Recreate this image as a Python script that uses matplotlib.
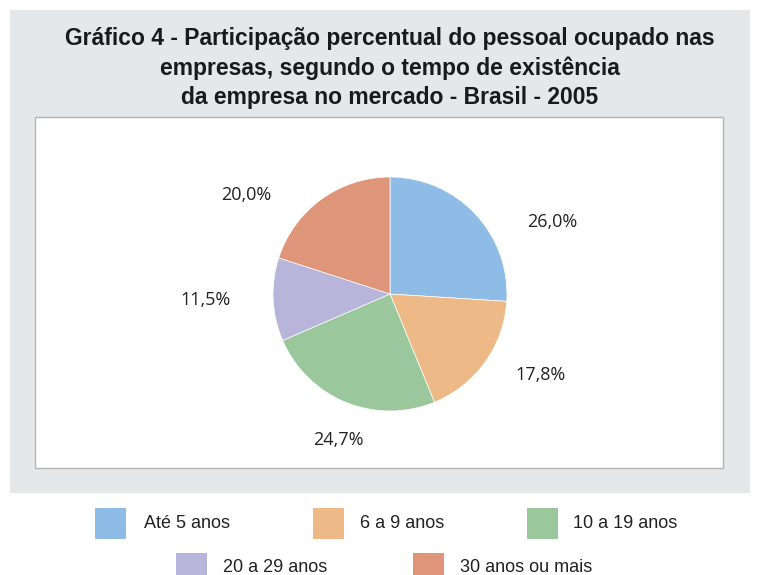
import matplotlib
matplotlib.use("Agg")
import matplotlib.pyplot as plt
from matplotlib.patches import Rectangle

categories = ["Até 5 anos", "6 a 9 anos", "10 a 19 anos", "20 a 29 anos", "30 anos ou mais"]
values = [26.0, 17.8, 24.7, 11.5, 20.0]
value_labels = ["26,0%", "17,8%", "24,7%", "11,5%", "20,0%"]
colors = ["#8EBCE6", "#EDBA87", "#9AC89C", "#B9B5DA", "#DF957A"]
title = ("Gráfico 4 - Participação percentual do pessoal ocupado nas\n"
         "empresas, segundo o tempo de existência\n"
         "da empresa no mercado - Brasil - 2005")

W, H = 759, 575
fig = plt.figure(figsize=(W / 100, H / 100), dpi=100)
fig.patch.set_facecolor("white")

def px(x, y):
    return x / W, 1 - y / H

# grey panel
gx0, gy0, gx1, gy1 = 10, 10, 750, 493
fig.patches.append(Rectangle(px(gx0, gy1), (gx1 - gx0) / W, (gy1 - gy0) / H,
                             transform=fig.transFigure, facecolor="#E6E7E9",
                             edgecolor="none", zorder=0))
# white inner box
bx0, by0, bx1, by1 = 35, 117, 723, 468
fig.patches.append(Rectangle(px(bx0, by1), (bx1 - bx0) / W, (by1 - by0) / H,
                             transform=fig.transFigure, facecolor="white",
                             edgecolor="#B4B4B4", linewidth=1.0, zorder=0.5))

title_font = ["Liberation Sans", "DejaVu Sans"]
fig.text(390 / W, 1 - 68 / H, title, ha="center", va="center", fontsize=16.5,
         fontweight="bold", family=title_font, linespacing=1.34, color="#1a1a1a")

# pie axes
cx, cy, r = 390, 294, 117
side = 300
ax = fig.add_axes([(cx - side / 2) / W, (H - cy - side / 2) / H, side / W, side / H])
ax.set_zorder(3)
ax.patch.set_visible(False)
lim = side / 2 / r
ax.pie(values, colors=colors, startangle=90, counterclock=False,
       radius=1.0, wedgeprops=dict(edgecolor="white", linewidth=0.5))
ax.set_aspect("equal")
ax.set_xlim(-lim, lim)
ax.set_ylim(-lim, lim)
ax.axis("off")

label_px = [(552, 222), (541, 375), (338, 440), (206, 300), (246, 195)]
for lab, (lx, ly) in zip(value_labels, label_px):
    ax.text((lx - cx) / r, (cy - ly) / r, lab, ha="center", va="center",
            fontsize=13, family=["Open Sans", "DejaVu Sans"], color="#222222",
            clip_on=False)

# legend
leg_font = ["Liberation Sans", "DejaVu Sans"]
sq_x = [95, 313, 527, 176, 413]
sq_y = [508, 508, 508, 553, 553]
txt_x = [144, 360, 573, 223, 460]
txt_y = [523, 523, 523, 568, 568]
for i, cat in enumerate(categories):
    fig.patches.append(Rectangle(px(sq_x[i], sq_y[i] + 31), 31 / W, 31 / H,
                                 transform=fig.transFigure, facecolor=colors[i],
                                 edgecolor="none"))
    fig.text(txt_x[i] / W, 1 - txt_y[i] / H, cat, ha="left", va="center",
             fontsize=13, family=leg_font, color="#222222")

fig.savefig("out.png", dpi=100, facecolor="white")
